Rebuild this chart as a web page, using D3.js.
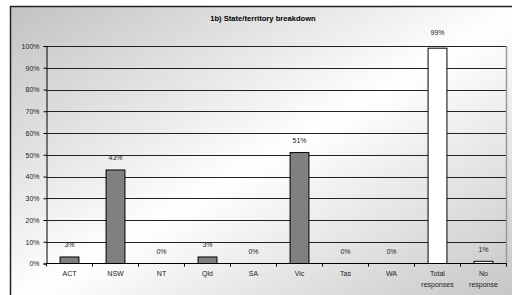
<!DOCTYPE html>
<html><head><meta charset="utf-8">
<script src="https://cdn.jsdelivr.net/npm/d3@7"></script>
<style>body{margin:0;background:#fff}svg{display:block}text{font-family:Arial,"Liberation Sans",sans-serif}</style>
</head><body>
<svg id="c" width="512" height="295"></svg>
<script>
const categories = ["ACT","NSW","NT","Qld","SA","Vic","Tas","WA","Total responses","No response"];
const values = [3,43,0,3,0,51,0,0,99,1];
const labels = ["3%","43%","0%","3%","0%","51%","0%","0%","99%","1%"];
const fills = ["#808080","#808080","#808080","#808080","#808080","#808080","#808080","#808080","#ffffff","#ffffff"];
const yTicks = [0,10,20,30,40,50,60,70,80,90,100];
const title = "1b) State/territory breakdown";

const svg = d3.select("#c");
const defs = svg.append("defs");
const g = defs.append("linearGradient").attr("id","bg").attr("x1",0).attr("y1",0).attr("x2",1).attr("y2",1);
g.append("stop").attr("offset","0%").attr("stop-color","#c2c2c2");
g.append("stop").attr("offset","50%").attr("stop-color","#ffffff");
g.append("stop").attr("offset","100%").attr("stop-color","#c2c2c2");

svg.append("rect").attr("x",10.5).attr("y",6.5).attr("width",520).attr("height",300)
  .attr("fill","url(#bg)").attr("stroke","#222").attr("stroke-width",1.5);

const L = 46.5, R = 506.5, T = 46, B = 263.5;
const x = d3.scaleBand().domain(categories).range([L,R]).paddingInner(0.59).paddingOuter(0.295);
const y = d3.scaleLinear().domain([0,100]).range([B,T]);

svg.append("text").attr("x",263).attr("y",21).attr("text-anchor","middle")
  .attr("font-size",7.6).attr("font-weight","bold").attr("fill","#000").text(title);

// gridlines
svg.append("g").selectAll("line").data(yTicks.filter(d=>d>0)).join("line")
  .attr("x1",L).attr("x2",R).attr("y1",d=>Math.round(y(d))+0.5).attr("y2",d=>Math.round(y(d))+0.5)
  .attr("stroke","#222").attr("stroke-width",1);
// right border of plot
svg.append("line").attr("x1",R).attr("x2",R).attr("y1",T).attr("y2",B).attr("stroke","#999").attr("stroke-width",1.5);

// bars
svg.append("g").selectAll("rect").data(values).join("rect")
  .attr("x",(d,i)=>x(categories[i]))
  .attr("y",d=>y(d))
  .attr("width",x.bandwidth())
  .attr("height",d=>B-y(d))
  .attr("fill",(d,i)=>fills[i]).attr("stroke","#000").attr("stroke-width",1);

// data labels
svg.append("g").selectAll("text").data(values).join("text")
  .attr("x",(d,i)=>x(categories[i])+x.bandwidth()/2)
  .attr("y",(d,i)=>y(d)-(d>95?13:9.5))
  .attr("text-anchor","middle").attr("font-size",7).attr("fill","#222")
  .text((d,i)=>labels[i]);

// y axis
const ya = d3.axisLeft(y).tickValues(yTicks).tickFormat(d=>d+"%").tickSize(3).tickPadding(4);
const yg = svg.append("g").attr("transform",`translate(${L},0)`).call(ya);
yg.select(".domain").attr("stroke","#000");
yg.selectAll("text").attr("font-size",7).attr("fill","#222").attr("font-family","Arial, Liberation Sans, sans-serif");

// x axis
const xg = svg.append("g").attr("transform",`translate(0,${B})`);
xg.append("line").attr("x1",L).attr("x2",R).attr("y1",0).attr("y2",0).attr("stroke","#000");
const bounds = d3.range(categories.length+1).map(i=>L+i*(R-L)/categories.length);
xg.selectAll("line.t").data(bounds).join("line").attr("class","t")
  .attr("x1",d=>d).attr("x2",d=>d).attr("y1",0).attr("y2",3).attr("stroke","#000");
const xt = xg.selectAll("text").data(categories).join("text")
  .attr("x",d=>x(d)+x.bandwidth()/2).attr("y",12.5)
  .attr("text-anchor","middle").attr("font-size",7).attr("fill","#222");
xt.each(function(d){
  const words = d.split(" ");
  const t = d3.select(this);
  words.forEach((w,i)=>t.append("tspan").attr("x",t.attr("x")).attr("dy",i?10.5:0).text(w));
});
</script>
</body></html>
